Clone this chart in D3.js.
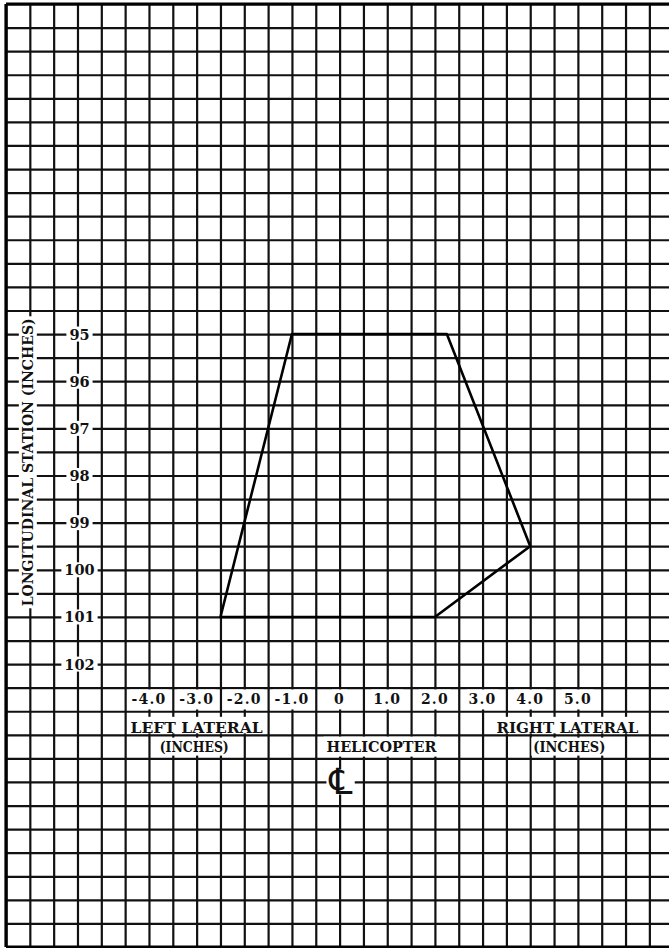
<!DOCTYPE html>
<html><head><meta charset="utf-8">
<script src="https://cdn.jsdelivr.net/npm/d3@7"></script>
<style>
html,body{margin:0;padding:0;background:#fff;}
svg{display:block;}
text{font-family:"DejaVu Serif","Liberation Serif",serif;font-weight:bold;fill:#111;}
</style></head><body>
<svg id="chart" width="669" height="948"></svg>
<script>
// ---- data ----
const lateralTicks = [-4, -3, -2, -1, 0, 1, 2, 3, 4, 5];
const lateralLabels = ["-4.0", "-3.0", "-2.0", "-1.0", "0", "1.0", "2.0", "3.0", "4.0", "5.0"];
const stationTicks = [95, 96, 97, 98, 99, 100, 101, 102];
const stationLabels = ["95", "96", "97", "98", "99", "100", "101", "102"];
const envelopeLateral = [-1.0, 2.25, 4.0, 2.0, -2.5];
const envelopeStation = [95, 95, 99.5, 101, 101];
const yTitle = "LONGITUDINAL STATION (INCHES)";
const leftTitle = ["LEFT LATERAL", "(INCHES)"];
const rightTitle = ["RIGHT LATERAL", "(INCHES)"];
const centerTitle = "HELICOPTER";
const centerSymbol = "\u2104";

// ---- scales ----
const W = 669, H = 948;
const x = d3.scaleLinear().domain([-7, 7]).range([6, 673.2]);
const y = d3.scaleLinear().domain([88, 108]).range([4, 947]);
const gridX = d3.range(-7, 6.51, 0.5);
const gridY = d3.range(88, 108.01, 0.5);

const svg = d3.select("#chart");
svg.append("rect").attr("width", W).attr("height", H).attr("fill", "#fff");

// vertical grid lines
const gx = svg.append("g").attr("transform", `translate(0,${y(88)})`)
  .call(d3.axisTop(x).tickValues(gridX).tickSize(-(y(108) - y(88))).tickFormat(""));
gx.select(".domain").remove();
gx.selectAll("line").attr("stroke", "#111").attr("stroke-width", 2.2);

// horizontal grid lines
const gy = svg.append("g").attr("transform", `translate(${x(-7)},0)`)
  .call(d3.axisLeft(y).tickValues(gridY).tickSize(-(W - x(-7))).tickFormat(""));
gy.select(".domain").remove();
gy.selectAll("line").attr("stroke", "#111").attr("stroke-width", 2.2);

// borders
svg.append("line").attr("x1", x(-7)).attr("x2", x(-7)).attr("y1", y(88)).attr("y2", y(108))
  .attr("stroke", "#000").attr("stroke-width", 3.2);
svg.append("line").attr("x1", x(-7)).attr("x2", W).attr("y1", y(88)).attr("y2", y(88))
  .attr("stroke", "#000").attr("stroke-width", 3.2);
svg.append("line").attr("x1", x(-7)).attr("x2", W).attr("y1", y(108)).attr("y2", y(108))
  .attr("stroke", "#000").attr("stroke-width", 3.2);

// envelope polygon
const pts = envelopeLateral.map((v, i) => [x(v), y(envelopeStation[i])]);
svg.append("path")
  .attr("d", d3.line()(pts) + "Z")
  .attr("fill", "none").attr("stroke", "#000").attr("stroke-width", 2.6)
  .attr("stroke-linejoin", "round");

// helper: text with white background box
const labels = svg.append("g");
function label(txt, cx, cy, opts = {}) {
  const g = labels.append("g");
  const t = g.append("text").attr("x", cx).attr("y", cy)
    .attr("text-anchor", "middle")
    .attr("dominant-baseline", opts.baseline || "central")
    .attr("font-size", opts.size || 13)
    .text(txt);
  if (opts.family) t.style("font-family", opts.family);
  if (opts.weight) t.style("font-weight", opts.weight);
  if (opts.style) t.style("font-style", opts.style);
  if (opts.spacing) t.attr("letter-spacing", opts.spacing);
  if (opts.length) t.attr("textLength", opts.length).attr("lengthAdjust", "spacingAndGlyphs");
  if (opts.rotate) t.attr("transform", `rotate(${opts.rotate},${cx},${cy})`);
  const b = t.node().getBBox();
  const px = opts.padX == null ? 2 : opts.padX, py = opts.padY == null ? 1 : opts.padY;
  let rx = b.x - px, ry = b.y - py, rw = b.width + 2 * px, rh = b.height + 2 * py;
  if (opts.bottom != null) rh = opts.bottom - ry;
  if (opts.rotate) {
    const ccx = b.x + b.width / 2, ccy = b.y + b.height / 2;
    rw = b.height + 2 * py; rh = b.width + 2 * px; rx = ccx - rw / 2; ry = ccy - rh / 2;
  }
  g.insert("rect", "text").attr("x", rx).attr("y", ry).attr("width", rw).attr("height", rh).attr("fill", "#fff");
  return t;
}

// station labels
stationTicks.forEach((s, i) => label(stationLabels[i], x(-5.5) + 2, y(s), {size: 14.5, padX: 3, padY: -1}));

// lateral labels
lateralTicks.forEach((v, i) => label(lateralLabels[i], x(v), y(102.75), {size: 14, spacing: 1.2, padX: 2, padY: 2}));

// axis titles
label(leftTitle[0], x(-3), y(103.5) - 2, {size: 14.5, baseline: "auto", length: 132, padX: 2, padY: 2, bottom: y(103.5) - 1.5});
label(leftTitle[1], x(-3.05), y(103.75), {size: 14, length: 69, padX: 2, padY: 1});
label(rightTitle[0], x(4.78), y(103.5) - 2, {size: 14.5, baseline: "auto", length: 142, padX: 2, padY: 2, bottom: y(103.5) - 1.5});
label(rightTitle[1], x(4.82), y(103.75), {size: 14, length: 72, padX: 2, padY: 1});
label(centerTitle, x(0.88), y(103.75), {size: 14, length: 110, padX: 3, padY: 2});
label(centerSymbol, x(0) + 1, y(104.5), {size: 36, family: "DejaVu Sans", weight: "normal", style: "italic", padX: -2, padY: -8});
label(yTitle, x(-6.5) - 2, y(97.72), {size: 15, rotate: -90, length: 288, padX: 2, padY: 0});
</script>
</body></html>
